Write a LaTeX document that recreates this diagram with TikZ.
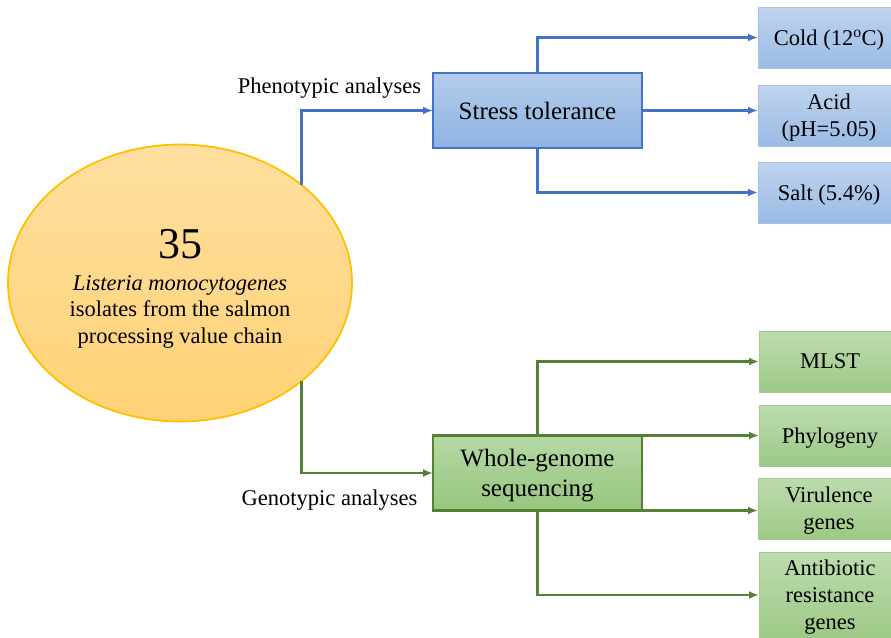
\documentclass[tikz,border=0pt]{standalone}
\usepackage{fontspec}
\setmainfont{Liberation Serif}
\usetikzlibrary{shapes.geometric,arrows.meta}

\definecolor{goldLine}{HTML}{FFC000}
\definecolor{goldTop}{HTML}{FFDFA0}
\definecolor{goldBottom}{HTML}{FFD275}
\definecolor{blueLine}{HTML}{4472C4}
\definecolor{blueTop}{HTML}{B4CCEB}
\definecolor{blueBottom}{HTML}{8FB3E2}
\definecolor{blueEdge}{HTML}{A9C1E4}
\definecolor{greenLine}{HTML}{548235}
\definecolor{greenTop}{HTML}{B5D8A6}
\definecolor{greenBottom}{HTML}{98C67F}
\definecolor{greenEdge}{HTML}{A3CB8F}

\begin{document}
\begin{tikzpicture}[>={Latex[length=10pt,width=8pt]}, x=1pt, y=-1pt]

% --- Styles ---
\tikzset{
    isolateSet/.style={
        ellipse,
        draw=goldLine,
        line width=1.8pt,
        top color=goldTop,
        bottom color=goldBottom,
        minimum width=344pt,
        minimum height=277pt,
        inner sep=0pt,
        outer sep=0pt,
        align=center,
        font=\fontsize{22.5}{26.5}\selectfont
    },
    methodBox/.style={
        rectangle,
        line width=2.6pt,
        minimum width=209pt,
        minimum height=75pt,
        inner sep=2pt,
        outer sep=0pt,
        text depth=-4pt,
        align=center,
        font=\fontsize{25}{30}\selectfont
    },
    stressBox/.style={
        methodBox,
        draw=blueLine,
        top color=blueTop,
        bottom color=blueBottom
    },
    genomeBox/.style={
        methodBox,
        draw=greenLine,
        top color=greenTop,
        bottom color=greenBottom
    },
    resultBox/.style={
        rectangle,
        line width=0.8pt,
        minimum width=142pt,
        minimum height=61pt,
        inner sep=2pt,
        outer sep=0pt,
        text depth=-2pt,
        align=center,
        font=\fontsize{22.5}{27}\selectfont
    },
    stressResult/.style={
        resultBox,
        draw=blueEdge,
        top color=blueTop!85!white,
        bottom color=blueBottom!90!white
    },
    genomeResult/.style={
        resultBox,
        draw=greenEdge,
        top color=greenTop!90!white,
        bottom color=greenBottom!95!white
    },
    blueArrow/.style={
        ->,
        draw=blueLine,
        line width=2.6pt
    },
    greenArrow/.style={
        ->,
        draw=greenLine,
        line width=2.6pt
    },
    analysisLabel/.style={
        anchor=base,
        font=\fontsize{22.5}{26}\selectfont
    }
}

\clip (0,0) rectangle (891,637);

% =========================================================
% Source: the isolates
% =========================================================

\node[isolateSet] (src) at (180,283)
    {\rule{0pt}{40pt}{\fontsize{44}{48}\selectfont 35}\\[5.5pt]
     \textit{Listeria monocytogenes}\\
     isolates from the salmon\\
     processing value chain};

% =========================================================
% Phenotypic branch
% =========================================================

\node[stressBox] (stress) at (537.5,110.5) {Stress tolerance};

\node[stressResult] (cold) at (829,37.5) {Cold (12\textsuperscript{o}C)};
\node[stressResult] (acid) at (829,115.5) {Acid\\(pH=5.05)};
\node[stressResult] (salt) at (829,192.5) {Salt (5.4\%)};

\node[analysisLabel] (phenoLbl) at (329.5,93) {Phenotypic analyses};

\draw[blueArrow] (src.north east) |- (stress.west);
\draw[blueArrow] (stress.north) |- (cold.west);
\draw[blueArrow] (stress.east) -- (stress.east -| acid.west);
\draw[blueArrow] (stress.south) |- (salt.west);

% =========================================================
% Genotypic branch
% =========================================================

\node[genomeBox] (wgs) at (537.5,473) {Whole-genome\\sequencing};

\node[genomeResult] (mlst) at (830,361.5) {MLST};
\node[genomeResult] (phylo) at (830,435.5) {Phylogeny};
\node[genomeResult] (vir) at (829,508.5) {Virulence\\genes};
\node[genomeResult, minimum height=86pt] (anti) at (830,595) {Antibiotic\\resistance\\genes};

\node[analysisLabel] (genoLbl) at (329.5,505) {Genotypic analyses};

\draw[greenArrow] (src.south east) |- (wgs.west);
\draw[greenArrow] (wgs.north) |- (mlst.west);
\draw[greenArrow] (wgs.north east) -- (wgs.north east -| phylo.west);
\draw[greenArrow] (wgs.south east) -- (wgs.south east -| vir.west);
\draw[greenArrow] (wgs.south) |- (anti.west);

\end{tikzpicture}
\end{document}
